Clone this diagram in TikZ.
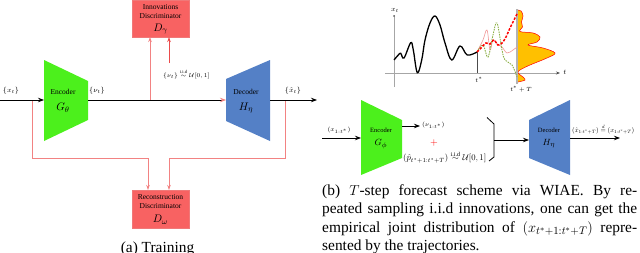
\documentclass[tikz,border=0pt]{standalone}
\usepackage{fontspec}
\setmainfont{Liberation Serif}
\usepackage{amsmath}
\usepackage{graphicx}
\usetikzlibrary{arrows.meta}
\definecolor{encgreen}{RGB}{76,240,28}
\definecolor{decblue}{RGB}{84,128,198}
\definecolor{boxred}{RGB}{248,98,98}
\definecolor{boxedge}{RGB}{240,120,120}
\definecolor{linepink}{RGB}{242,130,130}
\definecolor{linered}{RGB}{235,75,75}
\definecolor{densorange}{RGB}{255,192,0}
\definecolor{curvegreen}{RGB}{140,175,70}
\definecolor{curvepink}{RGB}{240,150,150}
\begin{document}
\begin{tikzpicture}[x=1pt,y=-1pt,
  mainln/.style={line width=0.8pt, black},
  arr/.style={-{Stealth[length=6pt,width=4.5pt]}},
  redarr/.style={-{Stealth[length=5pt,width=3.5pt]}},
  redln/.style={linepink, line width=0.8pt},
  rbox/.style={draw=boxedge, fill=boxred, line width=0.6pt, minimum width=57pt, outer sep=0pt, inner sep=0pt, align=center},
  btxt/.style={font=\fontsize{7.5}{9}\selectfont, inner sep=0pt},
  bsym/.style={font=\fontsize{11}{12}\selectfont, inner sep=0pt},
  lbl/.style={font=\fontsize{7}{8}\selectfont, inner sep=0pt},
  slbl/.style={font=\fontsize{6.5}{7.5}\selectfont, inner sep=0pt},
  tlbl/.style={font=\fontsize{5.6}{6.5}\selectfont, inner sep=0pt},
  captxt/.style={font=\fontsize{15.4}{18.5}\selectfont, inner sep=0pt}]
\useasboundingbox (0,0) rectangle (640,252);

% ================= (a) Training =================
\fill[encgreen] (44,60) -- (88,81) -- (88,120) -- (44,141) -- cycle;
\fill[decblue] (226,79) -- (270,60) -- (270,141) -- (226,121) -- cycle;
\coordinate (xin) at (0,100);
\coordinate (encin) at (44,100);
\coordinate (encout) at (88,100);
\coordinate (decin) at (226,100);
\coordinate (decout) at (270,100);
\coordinate (xout) at (317,100);
\node[btxt] (enclab) at (63,92) {Encoder};
\node[bsym] (encsym) at (63,108) {$G_\theta$};
\node[btxt] (declab) at (246,92) {Decoder};
\node[bsym] (decsym) at (246,108) {$H_\eta$};

\node[rbox, minimum height=37pt] (innov) at (160.5,18.5) {};
\node[btxt] (innovt1) at (160.5,7) {Innovations};
\node[btxt] (innovt2) at (160.5,16) {Discriminator};
\node[bsym] (innovs) at (160.5,29) {$D_\gamma$};

\node[rbox, minimum height=38pt] (recon) at (160.5,209) {};
\node[btxt] (recont1) at (160.5,197.5) {Reconstruction};
\node[btxt] (recont2) at (160.5,206) {Discriminator};
\node[bsym] (recons) at (160.5,220) {$D_\omega$};

% taps and feedback
\coordinate (tapL) at (32,100);
\coordinate (tapN) at (150,100);
\coordinate (tapR) at (285,100);
\coordinate (nz) at (169,63);
\coordinate (jL) at (148,158);
\coordinate (jR) at (169,158);
\draw[redln, redarr] (tapN) -- (innov.south -| tapN);
\draw[linered, line width=0.8pt, redarr] (nz) -- (innov.south -| nz);
\draw[redln, redarr] (tapL) |- (jL) -- (recon.north -| jL);
\draw[redln, redarr] (tapR) |- (jR) -- (recon.north -| jR);

\draw[mainln, arr] (xin) -- (encin);
\draw[mainln, -{Stealth[length=6pt,width=4.5pt,color=linepink]}] (encout) -- (decin);
\draw[mainln, arr] (decout) -- (xout);

\node[lbl] (lxt) at (11,91) {$\{x_t\}$};
\node[lbl] (lnut) at (97,91) {$\{\nu_t\}$};
\node[lbl] (lxhat) at (293,90.5) {$\{\hat{x}_t\}$};
\node[slbl, anchor=west] (liid) at (163,74) {$\{\nu_t\}\overset{\text{i.i.d}}{\sim}\mathcal{U}[0,1]$};

\node[captxt, anchor=base] (capa) at (157.5,252) {(a) Training};

% ================= (b) graph =================
\draw[gray!70, line width=0.7pt] (394,87) -- (394,17);
\fill[black!70] (394,16) circle (1pt);
\draw[gray!70, line width=0.7pt, -{Stealth[length=4pt,width=3pt,color=black!70]}] (385,73) -- (560,73);
\node[lbl] (lxaxis) at (395,10) {$x_t$};
\node[lbl] (ltaxis) at (565,72) {$t$};
\draw[black!70, line width=0.5pt] (477,52) -- (477,73);
\node[tlbl] (ltstar) at (479,80) {$t^*$};
\node[tlbl] (ltT) at (521,89) {$t^*+T$};

% density
\fill[densorange, draw=red, line width=0.5pt] plot[smooth, tension=0.6] coordinates {
 (517,10) (521,11) (523,16) (521.5,22) (522.5,27) (520,31.5) (533,33) (540,37) (537,42) (528,45)
 (543,48) (555,53) (547,58) (530,65) (520,70) (518,73) (523,77) (525,80) (518,82) (517,82)};
\draw[gray!60, line width=1.3pt] (517,9) -- (517,84);

% black history
\draw[black, line width=1.3pt] plot[smooth, tension=0.6] coordinates {
 (394,60) (398.3,55) (400.7,53.3) (404,58) (410.7,42.7) (413.3,50) (417.3,72.7) (421.7,60)
 (425,40) (430,23) (435,16) (440,25) (445,43) (451.7,60) (460,46) (467.3,55) (477,52)};
% forecast trajectories
\draw[curvepink, line width=0.6pt] plot[smooth, tension=0.6] coordinates {
 (477,52) (483,40) (487,30) (490,50) (493,40) (497,44) (502,47) (507,53) (513,50) (517,47)};
\draw[curvegreen, line width=0.9pt, dash pattern=on 1.5pt off 1pt] plot[smooth, tension=0.6] coordinates {
 (477,52) (483,45) (488,57) (493,35) (497,23) (502,50) (505,60) (512,65) (517,77)};
\draw[red, line width=1.5pt, dash pattern=on 2.5pt off 1.5pt] plot[smooth, tension=0.6] coordinates {
 (477,52) (481,48) (486,43) (490,44) (494,40) (498,45) (502,43) (506,37) (510,28) (514,20) (517,14)};

% ================= (b) scheme =================
\fill[encgreen] (361,100) -- (402,120) -- (402,158) -- (361,175) -- cycle;
\fill[decblue] (529,120) -- (570,100) -- (570,175) -- (529,158) -- cycle;
\node[slbl] (enc2lab) at (381,130) {Encoder};
\node[bsym, font=\fontsize{9.5}{11}\selectfont] (enc2sym) at (381,144) {$G_\phi$};
\node[slbl] (dec2lab) at (549,130) {Decoder};
\node[bsym, font=\fontsize{9.5}{11}\selectfont] (dec2sym) at (549,144) {$H_\eta$};

\coordinate (xin2) at (322,138);
\coordinate (enc2in) at (361,138);
\coordinate (enc2out) at (402,126);
\coordinate (nuend) at (420,126);
\coordinate (brk) at (494,140);
\coordinate (dec2in) at (529,140);
\coordinate (dec2out) at (570,138);
\coordinate (xout2) at (620,138);
\draw[mainln, arr] (xin2) -- (enc2in);
\draw[mainln, arr] (enc2out) -- (nuend);
\draw[mainln, arr] (brk) -- (dec2in);
\draw[mainln, arr] (dec2out) -- (xout2);
\draw[mainln] (487,117.5) -- (494,124) -- (494,157) -- (489,161);

\node[slbl] (lx1t) at (339,130) {$(x_{1:t^*})$};
\node[slbl, anchor=west] (lnu1t) at (422,125) {$(\nu_{1:t^*})$};
\node[font=\fontsize{10}{10}\selectfont, text=red, inner sep=0pt] (plus) at (434,143) {$+$};
\node[inner sep=0pt, anchor=west] (lp) at (403,157) {\resizebox{83pt}{!}{$(\hat{p}_{t^*+1:t^*+T})\overset{\text{i.i.d}}{\sim}\mathcal{U}[0,1]$}};
\node[inner sep=0pt, anchor=west] (lout) at (572,129) {\resizebox{62pt}{!}{$(\hat{x}_{1:t^*+T})\overset{d}{=}(x_{1:t^*+T})$}};

\node[captxt, anchor=base west, text width=315pt, align=justify] (capb) at (322,195) {\hyphenpenalty=10000\tolerance=10000\hbadness=10000
(b) $T$-step forecast scheme via WIAE. By re-\linebreak
peated sampling i.i.d innovations, one can get the\linebreak
empirical joint distribution of $(x_{t^*+1:t^*+T})$ repre-\linebreak
sented by the trajectories.};
\end{tikzpicture}
\end{document}
